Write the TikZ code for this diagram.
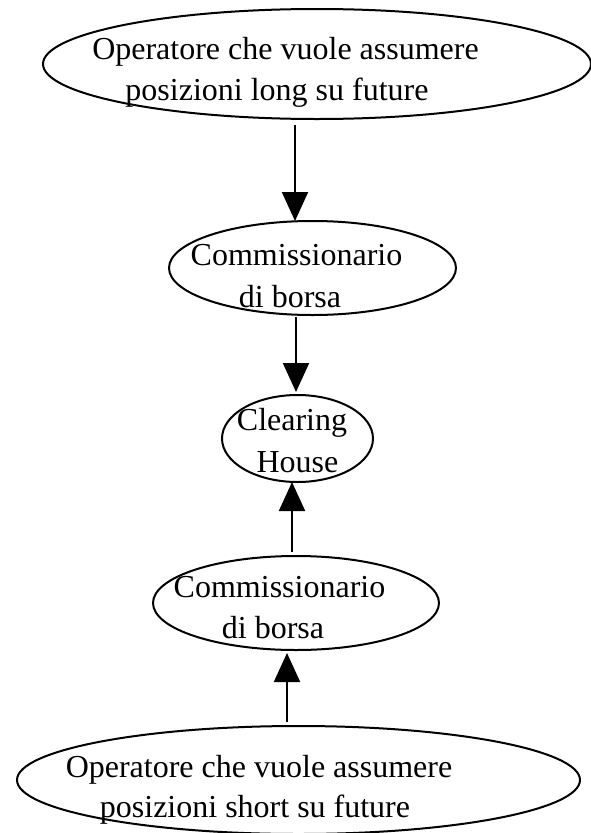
\documentclass[tikz,border=0pt]{standalone}
\usepackage{fontspec}
\setmainfont{Liberation Serif}
\usetikzlibrary{shapes.geometric,arrows.meta}
\begin{document}
\begin{tikzpicture}[x=1pt,y=-1pt,
  ell/.style={draw,ellipse,line width=2pt,inner sep=0pt,outer sep=0pt},
  lbl/.style={anchor=base,inner sep=0pt,font=\fontsize{32}{41}\selectfont},
  arr/.style={line width=2pt,-{Triangle[length=29pt,width=26pt]}}]
\useasboundingbox (0,0) rectangle (591,833);
\clip (0,0) rectangle (591,833);
% ellipses
\node[ell,minimum width=548pt,minimum height=110pt] (e1) at (317,64) {};
\node[ell,minimum width=287pt,minimum height=94pt] (e2) at (312.5,268) {};
\node[ell,minimum width=151pt,minimum height=87pt] (e3) at (297.5,438.5) {};
\node[ell,minimum width=286pt,minimum height=94pt] (e4) at (296,603) {};
\node[ell,minimum width=563pt,minimum height=108pt] (e5) at (298.5,780) {};
% labels
\node[lbl] (t1a) at (285.5,59) {Operatore che vuole assumere};
\node[lbl] (t1b) at (277,100) {posizioni long su future};
\node[lbl] (t2a) at (296.5,265) {Commissionario};
\node[lbl] (t2b) at (290,307) {di borsa};
\node[lbl] (t3a) at (292,430) {Clearing};
\node[lbl] (t3b) at (297.5,472) {House};
\node[lbl] (t4a) at (279.5,597) {Commissionario};
\node[lbl] (t4b) at (273,638) {di borsa};
\node[lbl] (t5a) at (259,777) {Operatore che vuole assumere};
\node[lbl] (t5b) at (255,817) {posizioni short su future};
% connector x positions
\coordinate (x1) at (295,0);
\coordinate (x2) at (296,0);
\coordinate (x3) at (292,0);
\coordinate (x4) at (287,0);
% connectors
\draw[arr,shorten <=6pt] (e1.south -| x1) -- (e2.north -| x1);
\draw[arr,shorten <=2pt,shorten >=3pt] (e2.south -| x2) -- (e3.north -| x2);
\draw[arr,shorten <=4pt] (e4.north -| x3) -- (e3.south -| x3);
\draw[arr,shorten <=4pt,shorten >=3pt] (e5.north -| x4) -- (e4.south -| x4);
\end{tikzpicture}
\end{document}
